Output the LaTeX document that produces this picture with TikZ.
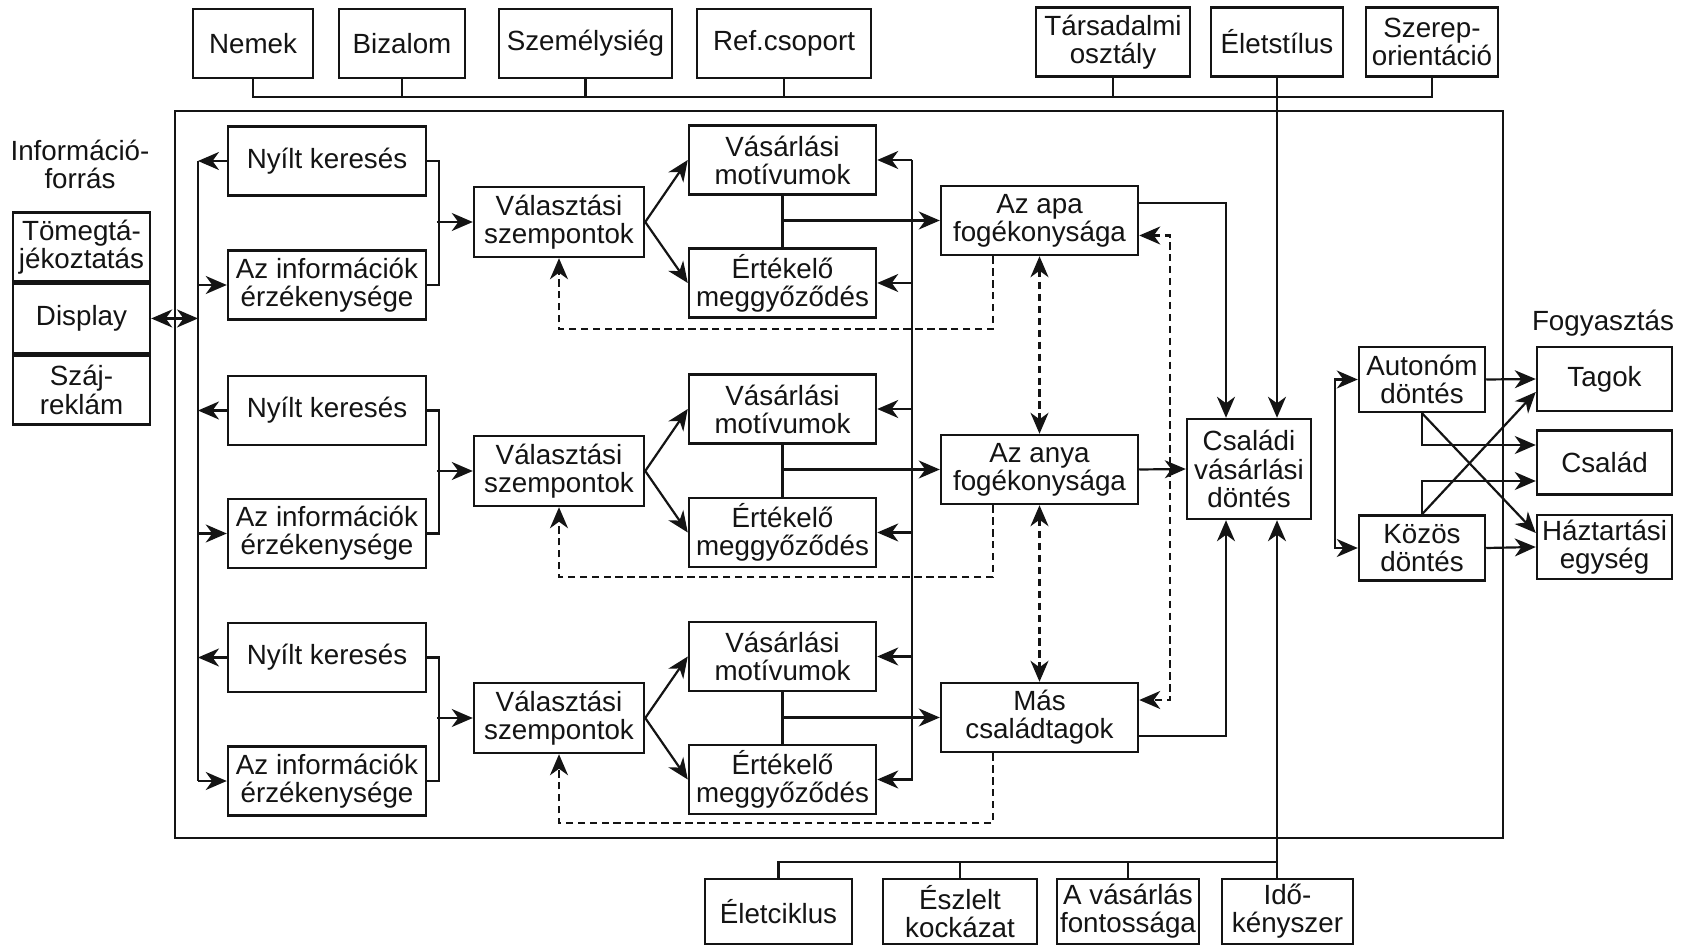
\documentclass[tikz,border=0pt]{standalone}
\usepackage{fontspec}
\setmainfont{Liberation Sans}
\usepackage{xcolor}
\usetikzlibrary{arrows.meta,positioning}
\definecolor{ink}{HTML}{141414}
\tikzset{
  family diagram/.style={
    x=0.2mm,
    y=-0.2mm,
    font=\fontsize{15.8}{16}\selectfont,
    >={Stealth[length=4.2mm,width=3.6mm,inset=1.3mm]},
    line join=miter
  },
  factorbox/.style={
    draw=ink,
    line width=1.4pt,
    align=center,
    inner sep=0pt,
    text=ink,
    minimum height=13.8mm
  },
  sourcebox/.style={factorbox, minimum width=27.4mm},
  searchbox/.style={factorbox, minimum width=39.6mm},
  critbox/.style={factorbox, minimum width=34mm, minimum height=14mm},
  motivebox/.style={factorbox, minimum width=37.4mm},
  memberbox/.style={factorbox, minimum width=39.4mm},
  decisionbox/.style={factorbox, minimum width=24.8mm, minimum height=20mm},
  typebox/.style={factorbox, minimum width=25.2mm, minimum height=13mm},
  outbox/.style={factorbox, minimum width=27mm, minimum height=12.8mm},
  framebox/.style={draw=ink, line width=1.3pt},
  flowline/.style={draw=ink, line width=1.25pt},
  flowarrow/.style={->, draw=ink, line width=1.25pt},
  feedarrow/.style={->, draw=ink, line width=1.2pt, dash pattern=on 4.2pt off 2.6pt}
}
\begin{document}
\begin{tikzpicture}[family diagram]
\useasboundingbox[fill=white] (0,0) rectangle (1682,947);
\draw[framebox] (175,111) rectangle (1503,838);

% external factors, top
\node[factorbox, minimum width=24mm] (nemek) at (253,43.5) {Nemek};
\node[factorbox, minimum width=25.2mm] (bizalom) at (402,43.5) {Bizalom};
\node[factorbox, minimum width=34.6mm] (szemely) at (585.5,43.5) {Személysiég};
\node[factorbox, minimum width=34.8mm] (refcsop) at (784,43.5) {Ref.csoport};
\node[factorbox, minimum width=30.8mm] (tarsad) at (1113,42) {Társadalmi\\osztály};
\node[factorbox, minimum width=26.4mm] (eletstil) at (1277,42) {Életstílus};
\node[factorbox, minimum width=26.4mm] (szerep) at (1432,42) {Szerep-\\orientáció};
\coordinate (bust) at (1432,97);

% information sources
\node[text=ink, align=center] (infolabel) at (80,164) {Információ-\\forrás};
\node[sourcebox] (tomeg) at (81.5,247) {Tömegtá-\\jékoztatás};
\node[sourcebox, below=0pt of tomeg] (display) {Display};
\node[sourcebox, below=0pt of display] (szaj) {Száj-\\reklám};
\coordinate (ltop) at (198,161);
\coordinate (lbot) at (198,781);

% row 1
\node[searchbox] (nyilt1) at (327,161) {Nyílt keresés};
\node[searchbox] (inf1) at (327,285) {Az információk\\érzékenysége};
\node[critbox] (valaszt1) at (559,222) {Választási\\szempontok};
\node[motivebox] (vasarl1) at (782.5,160) {Vásárlási\\motívumok};
\node[motivebox] (ertek1) at (782.5,283) {Értékelő\\meggyőződés};
\node[memberbox] (apa) at (1039.5,220.5) {Az apa\\fogékonysága};

% row 2
\node[searchbox] (nyilt2) at (327,410.5) {Nyílt keresés};
\node[searchbox] (inf2) at (327,533.5) {Az információk\\érzékenysége};
\node[critbox] (valaszt2) at (559,471) {Választási\\szempontok};
\node[motivebox] (vasarl2) at (782.5,409) {Vásárlási\\motívumok};
\node[motivebox] (ertek2) at (782.5,532.5) {Értékelő\\meggyőződés};
\node[memberbox] (anya) at (1039.5,469.5) {Az anya\\fogékonysága};

% row 3
\node[searchbox] (nyilt3) at (327,657.5) {Nyílt keresés};
\node[searchbox] (inf3) at (327,781) {Az információk\\érzékenysége};
\node[critbox] (valaszt3) at (559,718) {Választási\\szempontok};
\node[motivebox] (vasarl3) at (782.5,656.5) {Vásárlási\\motívumok};
\node[motivebox] (ertek3) at (782.5,779.5) {Értékelő\\meggyőződés};
\node[memberbox] (mas) at (1039.5,717.5) {Más\\családtagok};
\coordinate (rtop) at (912,160);
\coordinate (rbot) at (912,781);

% decision and consumption
\node[decisionbox] (csaladi) at (1249,469) {Családi\\vásárlási\\döntés};
\node[typebox] (auton) at (1422,379.5) {Autonóm\\döntés};
\node[typebox] (kozos) at (1422,548) {Közös\\döntés};
\coordinate (split) at (1335,463);
\node[text=ink] (fogylabel) at (1603,323) {Fogyasztás};
\node[outbox] (tagok) at (1604.5,379) {Tagok};
\node[outbox] (csalad) at (1604.5,462.5) {Család};
\node[outbox] (haztart) at (1604.5,547) {Háztartási\\egység};

% situational factors, bottom
\node[factorbox, minimum width=29.4mm, minimum height=13mm] (eletcikl) at (778.5,911.5) {Életciklus};
\node[factorbox, minimum width=30.8mm, minimum height=13mm] (eszlelt) at (960,911.5) {Észlelt\\kockázat};
\node[factorbox, minimum width=28.4mm, minimum height=13mm] (fontos) at (1128,911.5) {A vásárlás\\fontossága};
\node[factorbox, minimum width=26.2mm, minimum height=13mm] (ido) at (1287.5,911.5) {Idő-\\kényszer};
\coordinate (busb) at (1278,862);

% top bus
\draw[flowline] (nemek.south) |- (bust) -- (szerep.south);
\draw[flowline] (bizalom.south) -- (bizalom.south |- bust);
\draw[flowline] (szemely.south) -- (szemely.south |- bust);
\draw[flowline] (refcsop.south) -- (refcsop.south |- bust);
\draw[flowline] (tarsad.south) -- (tarsad.south |- bust);
\draw[flowarrow] (eletstil.south) -- (eletstil.south |- csaladi.north);

% information search
\draw[flowline] (ltop) -- (lbot);
\draw[flowarrow, <->] (display.east) -- (ltop |- display.east);
\draw[flowarrow] (nyilt1.west) -- (ltop |- nyilt1.west);
\draw[flowarrow] (nyilt2.west) -- (ltop |- nyilt2.west);
\draw[flowarrow] (nyilt3.west) -- (ltop |- nyilt3.west);
\draw[flowarrow] (ltop |- inf1.west) -- (inf1.west);
\draw[flowarrow] (ltop |- inf2.west) -- (inf2.west);
\draw[flowarrow] (ltop |- inf3.west) -- (inf3.west);

\draw[flowline] (nyilt1.east) -- ++(12,0) |- (inf1.east);
\draw[flowline] (nyilt2.east) -- ++(12,0) |- (inf2.east);
\draw[flowline] (nyilt3.east) -- ++(12,0) |- (inf3.east);
\draw[flowarrow] ([xshift=-7.2mm]valaszt1.west) -- (valaszt1.west);
\draw[flowarrow] ([xshift=-7.2mm]valaszt2.west) -- (valaszt2.west);
\draw[flowarrow] ([xshift=-7.2mm]valaszt3.west) -- (valaszt3.west);

\draw[flowarrow] (valaszt1.east) -- (vasarl1.west);
\draw[flowarrow] (valaszt1.east) -- (ertek1.west);
\draw[flowarrow] (valaszt2.east) -- (vasarl2.west);
\draw[flowarrow] (valaszt2.east) -- (ertek2.west);
\draw[flowarrow] (valaszt3.east) -- (vasarl3.west);
\draw[flowarrow] (valaszt3.east) -- (ertek3.west);

% motives feed the members
\draw[flowline] (rtop) -- (rbot);
\draw[flowarrow] (rtop |- vasarl1.east) -- (vasarl1.east);
\draw[flowarrow] (rtop |- ertek1.east) -- (ertek1.east);
\draw[flowarrow] (rtop |- vasarl2.east) -- (vasarl2.east);
\draw[flowarrow] (rtop |- ertek2.east) -- (ertek2.east);
\draw[flowarrow] (rtop |- vasarl3.east) -- (vasarl3.east);
\draw[flowarrow] (rtop |- ertek3.east) -- (ertek3.east);

\draw[flowline] (vasarl1.south) -- (ertek1.north);
\draw[flowline] (vasarl2.south) -- (ertek2.north);
\draw[flowline] (vasarl3.south) -- (ertek3.north);
\draw[flowarrow] (vasarl1.south |- apa.west) -- (apa.west);
\draw[flowarrow] (vasarl2.south |- anya.west) -- (anya.west);
\draw[flowarrow] (vasarl3.south |- mas.west) -- (mas.west);

% feedback
\draw[feedarrow] ([xshift=-9.3mm]apa.south) -- ++(0,73) -| (valaszt1.south);
\draw[feedarrow] ([xshift=-9.3mm]anya.south) -- ++(0,72) -| (valaszt2.south);
\draw[feedarrow] ([xshift=-9.3mm]mas.south) -- ++(0,70) -| (valaszt3.south);
\draw[feedarrow, <->] (apa.south) -- (anya.north);
\draw[feedarrow, <->] (anya.south) -- (mas.north);
\draw[feedarrow, <->] ([yshift=-3mm]apa.east) -- ++(31,0) |- ([yshift=3.5mm]mas.east);

% family decision
\draw[flowarrow] ([yshift=3.5mm]apa.east) -| ([xshift=-4.6mm]csaladi.north);
\draw[flowarrow] (anya.east) -- (csaladi.west);
\draw[flowarrow] ([yshift=-3.7mm]mas.east) -| ([xshift=-4.6mm]csaladi.south);
\draw[flowarrow] (eletstil.south |- ido.north) -- (eletstil.south |- csaladi.south);

% bottom bus
\draw[flowline] (eletcikl.north) |- (busb);
\draw[flowline] (eszlelt.north) -- (eszlelt.north |- busb);
\draw[flowline] (fontos.north) -- (fontos.north |- busb);

% consumption
\draw[flowarrow] (split) |- (auton.west);
\draw[flowarrow] (split) |- (kozos.west);
\draw[flowarrow] (auton.east) -- (tagok.west);
\draw[flowarrow] (auton.south) |- ([yshift=3.5mm]csalad.west);
\draw[flowarrow] (kozos.north) |- ([yshift=-3.7mm]csalad.west);
\draw[flowarrow] (auton.south) -- ([yshift=2.8mm]haztart.west);
\draw[flowarrow] (kozos.north) -- ([yshift=-2.6mm]tagok.west);
\draw[flowarrow] (kozos.east) -- (haztart.west);
\end{tikzpicture}
\end{document}
